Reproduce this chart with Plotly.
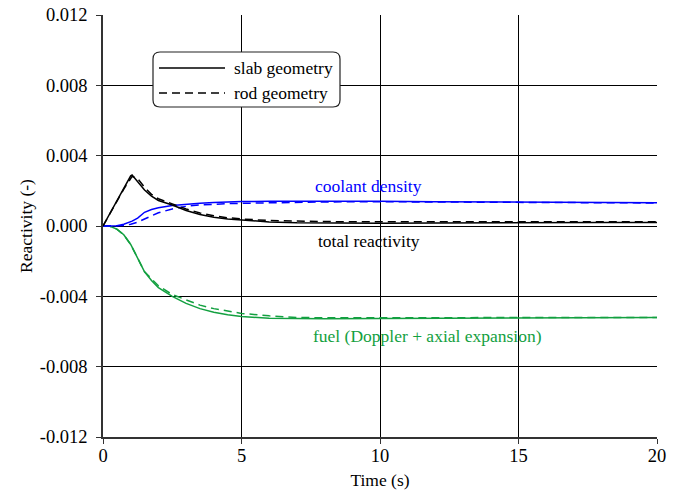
import plotly.graph_objects as go

# ---- data ----
t = [0, 0.25, 0.5, 0.75, 1.0, 1.05, 1.25, 1.5, 1.75, 2.0, 2.5, 3.0, 3.5, 4.0, 4.5, 5.0, 6.0, 7.0, 8.0, 10.0, 12.0, 14.0, 16.0, 18.0, 20.0]

total_slab = [0, 0.0007, 0.00142, 0.00214, 0.00285, 0.0029, 0.0025, 0.00205, 0.0017, 0.00145, 0.00119, 0.00088, 0.00065, 0.0005, 0.0004, 0.00033, 0.00023, 0.00018, 0.00016, 0.00015, 0.00017, 0.00019, 0.0002, 0.0002, 0.0002]
total_rod = [0, 0.0007, 0.0014, 0.0021, 0.0027, 0.00282, 0.0027, 0.0022, 0.0018, 0.00155, 0.00126, 0.00097, 0.00074, 0.00058, 0.00047, 0.0004, 0.00031, 0.00027, 0.00025, 0.00024, 0.00024, 0.00024, 0.00024, 0.00024, 0.00024]

coolant_slab = [0, 0.0, 0.00002, 0.0001, 0.00025, 0.00028, 0.00045, 0.00078, 0.00094, 0.00104, 0.00117, 0.00125, 0.0013, 0.00134, 0.00137, 0.00139, 0.00141, 0.00142, 0.00142, 0.00141, 0.00138, 0.00136, 0.00134, 0.00133, 0.00132]
coolant_rod = [0, 0.0, 0.0, 0.00003, 0.0001, 0.00012, 0.00022, 0.0004, 0.00058, 0.00075, 0.00097, 0.00112, 0.0012, 0.00125, 0.00127, 0.00129, 0.00133, 0.00135, 0.00137, 0.00138, 0.00136, 0.00134, 0.00133, 0.00132, 0.00131]

fuel_slab = [0, -0.00002, -0.00018, -0.0005, -0.00105, -0.0012, -0.0018, -0.0026, -0.0031, -0.0035, -0.0040, -0.0044, -0.0047, -0.0049, -0.00505, -0.00515, -0.00524, -0.00528, -0.00528, -0.00526, -0.00524, -0.00522, -0.00521, -0.0052, -0.0052]
fuel_rod = [0, -0.00002, -0.00018, -0.0005, -0.00105, -0.0012, -0.0018, -0.0026, -0.0030, -0.0034, -0.0039, -0.0042, -0.0045, -0.0047, -0.00485, -0.00497, -0.00511, -0.0052, -0.00522, -0.00522, -0.00521, -0.0052, -0.0052, -0.0052, -0.0052]

y_tickvals = [0.012, 0.008, 0.004, 0.0, -0.004, -0.008, -0.012]
y_ticktext = ["0.012", "0.008", "0.004", "0.000", "-0.004", "-0.008", "-0.012"]
x_tickvals = [0, 5, 10, 15, 20]

BLACK = "#000000"
BLUE = "#0000ff"
GREEN = "#13a040"
FONT = "Liberation Serif, Times New Roman, serif"
FS = 17.5
TFS = 18.5
DASH = "8px,5px"
LW = 1.5

fig = go.Figure()

def add(y, color, dash):
    fig.add_trace(go.Scatter(x=t, y=y, mode="lines",
                             line=dict(color=color, width=LW, dash=dash),
                             showlegend=False, hoverinfo="skip"))

add(fuel_rod, GREEN, DASH)
add(fuel_slab, GREEN, "solid")
add(coolant_rod, BLUE, DASH)
add(coolant_slab, BLUE, "solid")
add(total_rod, BLACK, DASH)
add(total_slab, BLACK, "solid")

# plot area geometry in pixels (for legend decoration)
L, R, T, B = 103, 657, 15, 437
def px(xp):
    return (xp - L) / (R - L)
def py(yp):
    return (B - yp) / (B - T)

# rounded legend box
x0, x1, y0, y1, r = 153, 340, 52, 107, 7
path = (f"M {px(x0+r)},{py(y0)} L {px(x1-r)},{py(y0)} "
        f"Q {px(x1)},{py(y0)} {px(x1)},{py(y0+r)} "
        f"L {px(x1)},{py(y1-r)} Q {px(x1)},{py(y1)} {px(x1-r)},{py(y1)} "
        f"L {px(x0+r)},{py(y1)} Q {px(x0)},{py(y1)} {px(x0)},{py(y1-r)} "
        f"L {px(x0)},{py(y0+r)} Q {px(x0)},{py(y0)} {px(x0+r)},{py(y0)} Z")
shapes = [dict(type="path", path=path, xref="paper", yref="paper",
               line=dict(color="#222222", width=1.2), fillcolor="white", layer="above")]
shapes.append(dict(type="line", xref="paper", yref="paper", x0=px(159), x1=px(225), y0=py(68), y1=py(68),
                   line=dict(color=BLACK, width=LW), layer="above"))
shapes.append(dict(type="line", xref="paper", yref="paper", x0=px(159), x1=px(225), y0=py(93), y1=py(93),
                   line=dict(color=BLACK, width=LW, dash=DASH), layer="above"))

annotations = [
    dict(text="slab geometry", xref="paper", yref="paper", x=px(232), y=py(68), xanchor="left", yanchor="middle",
         showarrow=False, font=dict(family=FONT, size=FS, color=BLACK)),
    dict(text="rod geometry", xref="paper", yref="paper", x=px(232), y=py(93), xanchor="left", yanchor="middle",
         showarrow=False, font=dict(family=FONT, size=FS, color=BLACK)),
    dict(text="coolant density", x=9.6, y=0.00226, xanchor="center", yanchor="middle",
         showarrow=False, font=dict(family=FONT, size=FS, color=BLUE)),
    dict(text="total reactivity", x=9.6, y=-0.00085, xanchor="center", yanchor="middle",
         showarrow=False, font=dict(family=FONT, size=FS, color=BLACK)),
    dict(text="fuel (Doppler + axial expansion)", x=11.7, y=-0.00627, xanchor="center", yanchor="middle",
         showarrow=False, font=dict(family=FONT, size=FS, color=GREEN)),
]

fig.update_layout(
    width=683, height=498,
    margin=dict(l=L, r=683 - R, t=T, b=498 - B, autoexpand=False),
    paper_bgcolor="white", plot_bgcolor="white",
    font=dict(family=FONT, size=FS, color=BLACK),
    shapes=shapes, annotations=annotations,
    showlegend=False,
)
fig.update_xaxes(range=[0, 20], tickvals=x_tickvals, ticks="outside", ticklen=5, tickcolor="#333333",
                 showgrid=True, gridcolor=BLACK, gridwidth=1, zeroline=False, automargin=False,
                 showline=True, linecolor="#333333", linewidth=1.5, mirror=False,
                 ticklabelstandoff=-4,
                 title=dict(text="Time (s)", standoff=9, font=dict(family=FONT, size=FS)),
                 tickfont=dict(family=FONT, size=TFS))
fig.update_yaxes(range=[-0.012, 0.012], tickvals=y_tickvals, ticktext=y_ticktext, ticks="outside", ticklen=5,
                 tickcolor="#333333", automargin=False, ticklabelstandoff=5,
                 showgrid=True, gridcolor=BLACK, gridwidth=1, zeroline=True, zerolinecolor=BLACK, zerolinewidth=1,
                 showline=True, linecolor="#333333", linewidth=1.5, mirror=False,
                 title=dict(text="Reactivity (-)", standoff=3, font=dict(family=FONT, size=FS)),
                 tickfont=dict(family=FONT, size=TFS))

fig.write_html("out.html")
